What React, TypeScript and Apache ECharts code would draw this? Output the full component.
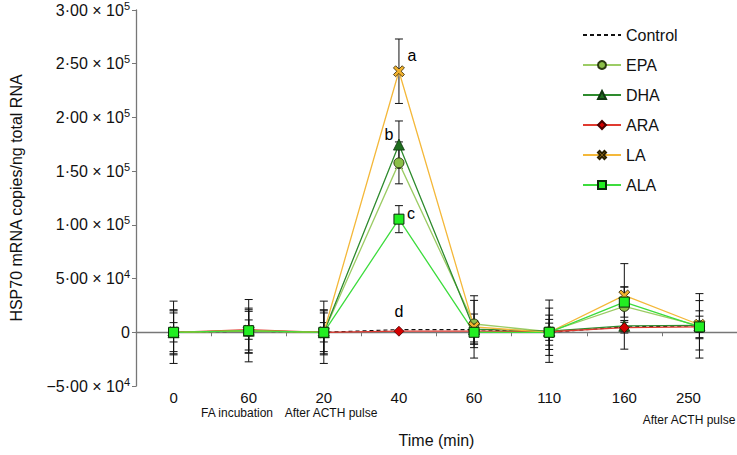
import React, { useEffect, useRef } from "react";
import * as echarts from "echarts";

const categories = ["0", "60", "20", "40", "60", "110", "160", "250"];
const subLabels = ["FA incubation", "After ACTH pulse", "After ACTH pulse"];
const seriesNames = ["Control", "EPA", "DHA", "ARA", "LA", "ALA"];

const controlValues = [0, 1000, 0, 2500, 2500, 0, 5000, 6000];
const epaValues = [0, 1000, 0, 157700, 7700, 500, 24100, 6000];
const epaErrors = [20000, 20000, 20000, 19500, 22000, 22000, 39800, 30000];
const dhaValues = [0, 1500, 0, 174700, 3000, 1000, 6000, 6500];
const dhaErrors = [29000, 29000, 29000, 22000, 14000, 29000, 5000, 23000];
const araValues = [0, 2500, 0, 1000, 1000, 500, 4300, 5000];
const araErrors = [9000, 9000, 9000, 0, 10000, 8000, 5000, 5000];
const laValues = [0, 1500, 0, 243000, 5000, 0, 34300, 7000];
const laErrors = [18000, 18000, 18000, 30000, 29000, 16000, 8000, 13000];
const alaValues = [0, 1500, 0, 105300, 0, 0, 28100, 5000];
const alaErrors = [21000, 21000, 21000, 12600, 11000, 12000, 14000, 10000];

const FONT = "'Liberation Sans', Arial, Helvetica, sans-serif";
const X_MARK =
  "path://M2,0 L5,3 L8,0 L10,2 L7,5 L10,8 L8,10 L5,7 L2,10 L0,8 L3,5 L0,2 Z";

function yLabel(v: number): string {
  if (v === 0) return "0";
  const a = Math.abs(v);
  const exp = Math.floor(Math.log10(a));
  const mant = (a / Math.pow(10, exp)).toFixed(2).replace(".", "\u00b7");
  return `${v < 0 ? "\u2212" : ""}${mant} \u00d7 10{sup|${exp}}`;
}

function errorSeries(values: number[], errors: number[]) {
  return {
    type: "custom",
    xAxisIndex: 0,
    yAxisIndex: 0,
    z: 1,
    silent: true,
    data: values.map((v, i) => [i, v - errors[i], v + errors[i]]),
    encode: { x: 0, y: [1, 2] },
    renderItem: (params: any, api: any) => {
      const i = api.value(0);
      const lo = api.coord([i, api.value(1)]);
      const hi = api.coord([i, api.value(2)]);
      if (Math.abs(lo[1] - hi[1]) < 1) return { type: "group", children: [] };
      const hw = 4;
      const st = { stroke: "#111", lineWidth: 1 };
      return {
        type: "group",
        children: [
          { type: "line", shape: { x1: hi[0], y1: hi[1], x2: lo[0], y2: lo[1] }, style: st },
          { type: "line", shape: { x1: hi[0] - hw, y1: hi[1], x2: hi[0] + hw, y2: hi[1] }, style: st },
          { type: "line", shape: { x1: lo[0] - hw, y1: lo[1], x2: lo[0] + hw, y2: lo[1] }, style: st },
        ],
      };
    },
  };
}

function letterItem(values: number[], idx: number, letter: string, offset: number[]) {
  return values.map((v, i) =>
    i === idx
      ? {
          value: v,
          label: {
            show: true,
            formatter: letter,
            position: "inside",
            offset,
            color: "#000",
            fontSize: 16,
            fontFamily: FONT,
          },
        }
      : v
  );
}

export default function App() {
  const ref = useRef<HTMLDivElement>(null);
  useEffect(() => {
    if (!ref.current) return;
    document.body.style.margin = "0";
    const chart = echarts.init(ref.current, null, { renderer: "svg" });
    const lineBase = { type: "line", xAxisIndex: 0, yAxisIndex: 0, z: 3 };
    const subStyle = (text: string) => ({
      text,
      textAlign: "center",
      textVerticalAlign: "middle",
      font: `12px ${FONT}`,
      fill: "#111",
    });
    const option: any = {
      animation: false,
      backgroundColor: "#fff",
      textStyle: { fontFamily: FONT },
      grid: { left: 132, right: 0, top: 8, bottom: 69, containLabel: false },
      legend: {
        orient: "vertical",
        left: 577,
        top: 22,
        itemWidth: 38,
        itemHeight: 10,
        itemGap: 14,
        data: [
          { name: "Control", itemStyle: { opacity: 0 } },
          ...seriesNames.slice(1),
        ],
        textStyle: { fontSize: 16, color: "#111", fontFamily: FONT },
      },
      xAxis: [
        {
          type: "category",
          data: categories,
          axisLine: { onZero: true, lineStyle: { color: "#777", width: 1.3 } },
          axisTick: { show: true, length: 4, lineStyle: { color: "#777" } },
          axisLabel: { show: false },
          splitLine: { show: false },
        },
        {
          type: "category",
          data: categories,
          position: "bottom",
          axisLine: { show: false },
          axisTick: { show: false },
          axisLabel: {
            show: true,
            interval: 0,
            margin: 4,
            color: "#111",
            fontSize: 15,
            fontFamily: FONT,
            formatter: (v: string, i: number) =>
              i === categories.length - 1 ? `{last|${v}}` : v,
            rich: { last: { fontSize: 15, padding: [0, 22, 0, 0], color: "#111" } },
          },
          name: "Time (min)",
          nameLocation: "middle",
          nameGap: 46,
          nameTextStyle: { fontSize: 16, color: "#111", fontFamily: FONT },
        },
      ],
      yAxis: {
        type: "value",
        min: -50000,
        max: 300000,
        interval: 50000,
        axisLine: { show: true, lineStyle: { color: "#777", width: 1.3 } },
        axisTick: { show: true, length: 4, lineStyle: { color: "#777" } },
        splitLine: { show: false },
        axisLabel: {
          margin: 6,
          color: "#111",
          fontSize: 16,
          fontFamily: FONT,
          formatter: yLabel,
          rich: { sup: { fontSize: 11, padding: [0, 0, 9, 0], color: "#111" } },
        },
        name: "HSP70 mRNA copies/ng total RNA",
        nameLocation: "middle",
        nameGap: 112,
        nameTextStyle: { fontSize: 16, color: "#111", fontFamily: FONT },
      },
      graphic: [
        { type: "text", x: 237, y: 413, style: subStyle(subLabels[0]) },
        { type: "text", x: 331, y: 413, style: subStyle(subLabels[1]) },
        { type: "text", x: 689, y: 420, style: subStyle(subLabels[2]) },
      ],
      series: [
        errorSeries(epaValues, epaErrors),
        errorSeries(dhaValues, dhaErrors),
        errorSeries(araValues, araErrors),
        errorSeries(laValues, laErrors),
        errorSeries(alaValues, alaErrors),
        {
          ...lineBase,
          name: "Control",
          data: controlValues,
          symbol: "none",
          lineStyle: { color: "#111", width: 1.2, type: [4, 3] },
          itemStyle: { color: "#111" },
        },
        {
          ...lineBase,
          name: "EPA",
          data: epaValues,
          symbol: "circle",
          symbolSize: 10,
          lineStyle: { color: "#9ccc65", width: 1.3 },
          itemStyle: { color: "#8bbf48", borderColor: "#2a3a10", borderWidth: 1 },
        },
        {
          ...lineBase,
          name: "DHA",
          data: letterItem(dhaValues, 3, "b", [-10, -10]),
          symbol: "triangle",
          symbolSize: 11,
          lineStyle: { color: "#2e8b2e", width: 1.3 },
          itemStyle: { color: "#1f6e1f", borderColor: "#103810", borderWidth: 0.8 },
        },
        {
          ...lineBase,
          name: "ARA",
          data: letterItem(araValues, 3, "d", [0, -20]),
          symbol: "diamond",
          symbolSize: 10,
          lineStyle: { color: "#e03a30", width: 1.3 },
          itemStyle: { color: "#d40000", borderColor: "#4a0000", borderWidth: 0.8 },
        },
        {
          ...lineBase,
          name: "LA",
          data: letterItem(laValues, 3, "a", [13, -16]),
          symbol: X_MARK,
          symbolSize: 11,
          lineStyle: { color: "#f4b83a", width: 1.3 },
          itemStyle: { color: "#f2b22e", borderColor: "#2a2000", borderWidth: 0.8 },
        },
        {
          ...lineBase,
          name: "ALA",
          data: letterItem(alaValues, 3, "c", [12, -6]),
          symbol: "rect",
          symbolSize: 10,
          lineStyle: { color: "#3ddc3d", width: 1.3 },
          itemStyle: { color: "#22ee22", borderColor: "#0a2a0a", borderWidth: 1 },
        },
      ],
    };
    chart.setOption(option);
    return () => chart.dispose();
  }, []);
  return <div ref={ref} style={{ width: 737, height: 455 }} />;
}
